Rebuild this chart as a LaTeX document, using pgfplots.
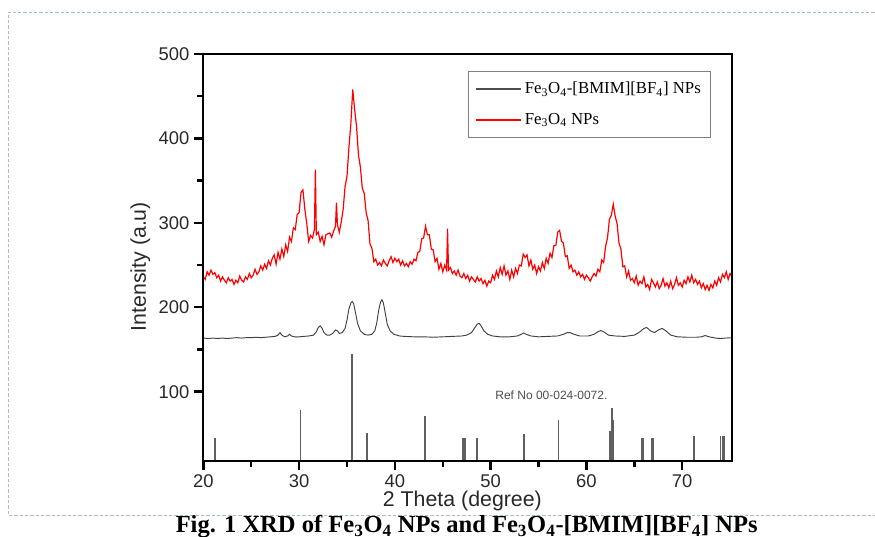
\documentclass[border=0pt]{standalone}
\usepackage{fontspec}
\setmainfont{Liberation Sans}
\newfontfamily\tnr{Liberation Serif}
\usepackage{pgfplots}
\pgfplotsset{compat=1.18}
\definecolor{borderblue}{RGB}{165,185,208}
\definecolor{barcol}{RGB}{95,95,95}
\definecolor{ticktext}{RGB}{40,40,40}

\begin{document}
\begin{tikzpicture}
\path[use as bounding box] (0,0) rectangle (656.25pt,402pt);
% dashed frame of the page
\draw[borderblue, line width=0.7pt, dash pattern=on 2.5pt off 1.5pt]
  (660pt,393pt) -- (6pt,393pt) -- (6pt,15.75pt) -- (660pt,15.75pt);

\begin{axis}[
    at={(152.5pt,56.5pt)}, anchor=south west,
    scale only axis,
    width=396.5pt, height=305pt,
    xmin=20, xmax=75.2,
    ymin=18.3, ymax=500,
    clip mode=individual,
    axis x line*=bottom, axis y line*=left,
    axis line style={line width=1.7pt, -},
    xtick={20,30,...,70},
    ytick={100,200,...,500},
    minor x tick num=1,
    minor y tick num=1,
    tick align=outside,
    major tick length=7pt,
    minor tick length=4.5pt,
    major tick style={line width=1.8pt, black},
    minor tick style={line width=1.8pt, black},
    tick label style={font=\fontsize{13.8}{16}\selectfont, text=ticktext},
    /pgf/number format/assume math mode=true,
    xlabel={2 Theta (degree)},
    ylabel={Intensity (a.u)},
    label style={font=\fontsize{16}{19}\selectfont, text=ticktext},
    xlabel style={at={(axis description cs:0.49,-0.1)}, anchor=center},
    ylabel style={at={(axis description cs:-0.119,0.477)}, anchor=center},
    legend style={at={(axis description cs:0.501,0.958)}, anchor=north west,
        draw=gray, line width=0.8pt, font=\tnr\fontsize{12.6}{15}\selectfont,
        row sep=9pt, inner xsep=5pt, inner ysep=6pt},
    legend cell align=left,
]

% reference pattern 00-024-0072
\addplot[ycomb, barcol, line width=1.3pt, forget plot] coordinates {
(21.22,45) (30.14,78) (35.56,145) (37.12,51) (43.16,71) (47.08,45) (47.33,45)
(48.58,45) (53.5,50) (57.09,66) (62.46,54) (62.67,81) (62.81,67) (65.81,45)
(65.95,45) (66.86,45) (67.0,45) (71.22,47) (74.0,48) (74.26,48) (74.43,47)
};

% Fe3O4-[BMIM][BF4]
\addplot[color=black!75, line width=0.7pt,
  legend image code/.code={\draw[black!70,line width=1.1pt] (0pt,0pt) -- (34pt,0pt);}]
  coordinates {
(20.0,163.5) (20.5,163) (21,163.5) (21.5,163) (22,163.5) (22.5,163) (23,163.5)
(23.5,164) (24,163.5) (24.5,164) (25,164) (25.5,164.5) (26,164) (26.5,164.5)
(27,165) (27.5,165.5) (27.8,167) (28.0,170) (28.2,167) (28.5,165) (28.8,166)
(29.0,168) (29.2,166) (29.5,165) (30,165) (30.5,165.5) (31,166) (31.5,167)
(31.8,171) (32.0,176) (32.2,178) (32.4,175) (32.6,170) (32.9,167) (33.2,167)
(33.5,169) (33.8,173) (34.0,172) (34.2,169) (34.5,170) (34.8,175) (35.0,185)
(35.2,198) (35.4,205) (35.55,207) (35.7,204) (35.9,193) (36.1,181) (36.4,172)
(36.8,168) (37.2,167) (37.6,168) (37.9,172) (38.1,181) (38.3,196) (38.5,206)
(38.65,209) (38.8,205) (39.0,193) (39.2,180) (39.5,172) (39.9,168) (40.5,166)
(41,165.5) (42,165) (43,165) (44,164.5) (45,165) (46,165.5) (47,166) (47.5,167)
(48.0,170) (48.3,175) (48.6,180) (48.8,181) (49.0,178) (49.3,172) (49.7,168)
(50.2,166) (51,165) (52,165) (52.8,166) (53.2,168) (53.45,169.5) (53.7,168)
(54.2,166) (55,165) (56,165.5) (57,166) (57.6,168) (58.0,170) (58.3,170)
(58.7,168) (59.3,166) (60.2,166) (60.8,168) (61.2,171) (61.5,172.5) (61.8,171)
(62.3,167) (63,166) (64,165.5) (65,167) (65.6,171) (66.0,175) (66.3,176)
(66.7,172) (67.1,170) (67.5,173) (67.9,175) (68.3,172) (68.8,167) (69.5,165)
(70.5,164.5) (71.5,164.5) (72.0,165) (72.4,166.5) (72.8,165) (73.5,163.5)
(74.0,163) (74.5,163.5) (75.2,164)
};
\addlegendentry{Fe\textsubscript{3}O\textsubscript{4}-[BMIM][BF\textsubscript{4}] NPs}

% Fe3O4
\addplot[color=red, line width=0.9pt,
  legend image code/.code={\draw[red,line width=1.1pt] (0pt,0pt) -- (34pt,0pt);}]
  coordinates {
(20.0,236) (20.2,233) (20.4,242) (20.6,238) (20.8,244) (21.0,239) (21.2,241)
(21.4,235) (21.6,238) (21.8,231) (22.0,236) (22.2,232) (22.4,229) (22.6,235)
(22.8,231) (23.0,233) (23.2,227) (23.4,232) (23.6,229) (23.8,237) (24.0,232)
(24.2,230) (24.4,236) (24.6,233) (24.8,240) (25.0,235) (25.2,238) (25.4,245)
(25.6,239) (25.8,242) (26.0,249) (26.2,244) (26.4,251) (26.6,246) (26.8,255)
(27.0,250) (27.2,258) (27.4,262) (27.6,251) (27.8,265) (28.0,257) (28.2,269)
(28.4,260) (28.6,274) (28.8,266) (29.0,283) (29.2,278) (29.4,294) (29.6,292)
(29.8,310) (30.0,312) (30.2,336) (30.4,339) (30.6,316) (30.8,299) (31.0,278)
(31.2,285) (31.4,282) (31.6,292) (31.7,363) (31.8,286) (32.0,289) (32.2,278)
(32.4,284) (32.6,274) (32.8,286) (33.0,287) (33.2,288) (33.4,283) (33.6,290)
(33.8,296) (33.9,324) (34.0,298) (34.2,289) (34.4,301) (34.6,316) (34.8,343)
(35.0,355) (35.2,389) (35.4,417) (35.6,458) (35.8,434) (36.0,414) (36.2,380)
(36.4,366) (36.6,341) (36.8,335) (37.0,312) (37.2,303) (37.4,275) (37.6,270)
(37.8,254) (38.0,257) (38.2,250) (38.4,253) (38.6,249) (38.8,256) (39.0,252)
(39.2,249) (39.4,255) (39.6,260) (39.8,253) (40.0,258) (40.2,254) (40.4,257)
(40.6,250) (40.8,255) (41.0,249) (41.2,252) (41.4,248) (41.6,254) (41.8,251)
(42.0,257) (42.2,255) (42.4,265) (42.6,266) (42.8,281) (43.0,282) (43.2,296)
(43.4,286) (43.6,286) (43.8,269) (44.0,268) (44.2,254) (44.4,258) (44.6,245)
(44.8,252) (45.0,242) (45.2,250) (45.4,244) (45.5,293) (45.6,244) (45.8,247)
(46.0,240) (46.2,243) (46.4,238) (46.6,244) (46.8,237) (47.0,235) (47.2,240)
(47.4,234) (47.6,238) (47.8,231) (48.0,236) (48.2,233) (48.4,230) (48.6,236)
(48.8,231) (49.0,234) (49.2,228) (49.4,232) (49.6,225) (49.8,231) (50.0,229)
(50.2,238) (50.4,233) (50.6,243) (50.8,236) (51.0,247) (51.2,239) (51.4,249)
(51.6,238) (51.8,243) (52.0,233) (52.2,244) (52.4,236) (52.6,246) (52.8,240)
(53.0,250) (53.2,249) (53.4,263) (53.6,259) (53.8,262) (54.0,249) (54.2,256)
(54.4,245) (54.6,250) (54.8,240) (55.0,248) (55.2,243) (55.4,253) (55.6,246)
(55.8,258) (56.0,252) (56.2,264) (56.4,259) (56.6,273) (56.8,273) (57.0,289)
(57.2,291) (57.4,278) (57.6,276) (57.8,260) (58.0,261) (58.2,246) (58.4,250)
(58.6,242) (58.8,244) (59.0,238) (59.2,242) (59.4,236) (59.6,239) (59.8,233)
(60.0,238) (60.2,235) (60.4,231) (60.6,236) (60.8,240) (61.0,237) (61.2,245)
(61.4,242) (61.6,256) (61.8,253) (62.0,272) (62.2,282) (62.4,304) (62.6,309)
(62.8,322) (63.0,308) (63.2,299) (63.4,276) (63.6,269) (63.8,248) (64.0,249)
(64.2,236) (64.4,243) (64.6,232) (64.8,234) (65.0,229) (65.2,237) (65.4,226)
(65.6,231) (65.8,228) (66.0,236) (66.2,224) (66.4,227) (66.6,221) (66.8,233)
(67.0,229) (67.2,224) (67.4,230) (67.6,222) (67.8,226) (68.0,234) (68.2,225)
(68.4,229) (68.6,223) (68.8,231) (69.0,222) (69.2,227) (69.4,235) (69.6,226)
(69.8,229) (70.0,224) (70.2,232) (70.4,228) (70.6,236) (70.8,230) (71.0,238)
(71.2,229) (71.4,233) (71.6,227) (71.8,231) (72.0,223) (72.2,228) (72.4,221)
(72.6,226) (72.8,220) (73.0,227) (73.2,223) (73.4,231) (73.6,226) (73.8,235)
(74.0,230) (74.2,239) (74.4,235) (74.6,242) (74.8,233) (75.0,240) (75.2,236)
};
\addlegendentry{Fe\textsubscript{3}O\textsubscript{4} NPs}

\node[font=\fontsize{9}{11}\selectfont, text=black!70, anchor=west]
  at (axis cs:50,96) {Ref No 00-024-0072.};
% full frame, heavier, as in the original plot
\draw[line width=1.7pt] (rel axis cs:0,0) rectangle (rel axis cs:1,1);
\end{axis}

\node[font=\tnr\bfseries\fontsize{18.4}{20}\selectfont, anchor=base]
  at (350pt,2.5pt) {Fig. 1 XRD of Fe\textsubscript{3}O\textsubscript{4} NPs and Fe\textsubscript{3}O\textsubscript{4}-[BMIM][BF\textsubscript{4}] NPs};
\end{tikzpicture}
\end{document}
